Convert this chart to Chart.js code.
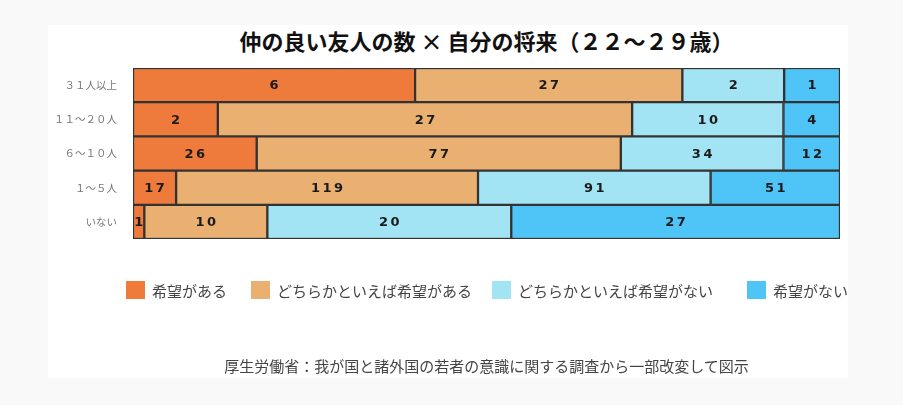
<!DOCTYPE html>
<html lang="ja">
<head>
<meta charset="utf-8">
<title>仲の良い友人の数 × 自分の将来</title>
<script src="https://cdn.jsdelivr.net/npm/chart.js@4"></script>
<style>
  html, body { margin: 0; padding: 0; }
  body { width: 903px; height: 405px; background: #f9f9f9; position: relative; overflow: hidden;
         font-family: "Noto Sans CJK JP", "Noto Sans", sans-serif; }
  #panel { position: absolute; left: 48px; top: 25px; width: 800px; height: 353px; background: #fff; }
  #title { position: absolute; left: 133px; width: 707px; top: 26px; text-align: center;
           font-size: 22px; font-weight: bold; color: #111; line-height: 28px; white-space: nowrap; }
  #chart { position: absolute; left: 0; top: 0; }
  .lg { position: absolute; top: 280px; height: 20px; display: flex; align-items: center;
        font-size: 15px; color: #444; white-space: nowrap; }
  .lg i { display: inline-block; width: 19px; height: 18px; margin-right: 7px; }
  #source { position: absolute; left: 133px; width: 707px; top: 356px; text-align: center;
            font-size: 15px; color: #444; line-height: 20px; white-space: nowrap; }
</style>
</head>
<body>
<div id="panel"></div>
<div id="title">仲の良い友人の数 × 自分の将来（２２～２９歳）</div>
<canvas id="chart" width="903" height="405"></canvas>
<div id="legend"></div>
<div id="source">厚生労働省：我が国と諸外国の若者の意識に関する調査から一部改変して図示</div>
<script>
// rows (number of close friends)
const categories = ['３１人以上', '１１～２０人', '６～１０人', '１～５人', 'いない'];
const seriesNames = ['希望がある', 'どちらかといえば希望がある', 'どちらかといえば希望がない', '希望がない'];

// bar widths (% of each row)
const shareHope     = [39.9, 12.0, 17.5, 6.1, 1.6];
const shareSomeHope = [37.8, 58.6, 51.5, 42.7, 17.4];
const shareSomeNo   = [14.4, 21.4, 23.0, 32.9, 34.5];
const shareNoHope   = [7.9, 8.0, 8.0, 18.3, 46.5];

// numbers printed inside the bars
const countHope     = [6, 2, 26, 17, 1];
const countSomeHope = [27, 27, 77, 119, 10];
const countSomeNo   = [2, 10, 34, 91, 20];
const countNoHope   = [1, 4, 12, 51, 27];

const colors = ['#ee7a3b', '#e9b072', '#a2e3f4', '#4fc4f6'];
const legendLeft = [126, 251, 492, 747];

const barLabels = {
    id: 'barLabels',
    afterDatasetsDraw(chart) {
        const ctx = chart.ctx;
        ctx.save();
        ctx.font = 'bold 13px "DejaVu Sans", "Noto Sans", sans-serif';
        ctx.fillStyle = '#1a1a1a';
        ctx.textAlign = 'center';
        ctx.textBaseline = 'middle';
        ctx.letterSpacing = '2.5px';
        chart.data.datasets.forEach((ds, di) => {
            chart.getDatasetMeta(di).data.forEach((bar, i) => {
                const p = bar.getCenterPoint();
                ctx.fillText(String(ds.counts[i]), p.x + 1.25, p.y + 1);
            });
        });
        ctx.restore();
    }
};

const shares = [shareHope, shareSomeHope, shareSomeNo, shareNoHope];
const counts = [countHope, countSomeHope, countSomeNo, countNoHope];

const chart = new Chart(document.getElementById('chart'), {
    type: 'bar',
    data: {
        labels: categories,
        datasets: seriesNames.map((name, k) => ({
            label: name,
            data: shares[k],
            counts: counts[k],
            backgroundColor: colors[k],
            borderColor: '#333',
            borderWidth: 1.5,
            borderSkipped: false,
            categoryPercentage: 1,
            barPercentage: 1
        }))
    },
    options: {
        indexAxis: 'y',
        responsive: false,
        animation: false,
        layout: { padding: { left: 48, right: 63, top: 68, bottom: 166 } },
        plugins: { legend: { display: false }, title: { display: false }, tooltip: { enabled: false } },
        scales: {
            x: { stacked: true, min: 0, max: 100, display: false },
            y: {
                stacked: true,
                grid: { display: false, drawTicks: false },
                border: { display: false },
                ticks: {
                    color: '#777',
                    padding: 16,
                    font: { family: '"Noto Sans CJK JP", sans-serif', size: 10.5 }
                },
                afterFit: s => { s.width = 85; }
            }
        }
    },
    plugins: [barLabels]
});

// legend built from the datasets
const legend = document.getElementById('legend');
chart.data.datasets.forEach((ds, k) => {
    const item = document.createElement('div');
    item.className = 'lg';
    item.style.left = legendLeft[k] + 'px';
    item.innerHTML = '<i style="background:' + ds.backgroundColor + '"></i>' + ds.label;
    legend.appendChild(item);
});
</script>
</body>
</html>
